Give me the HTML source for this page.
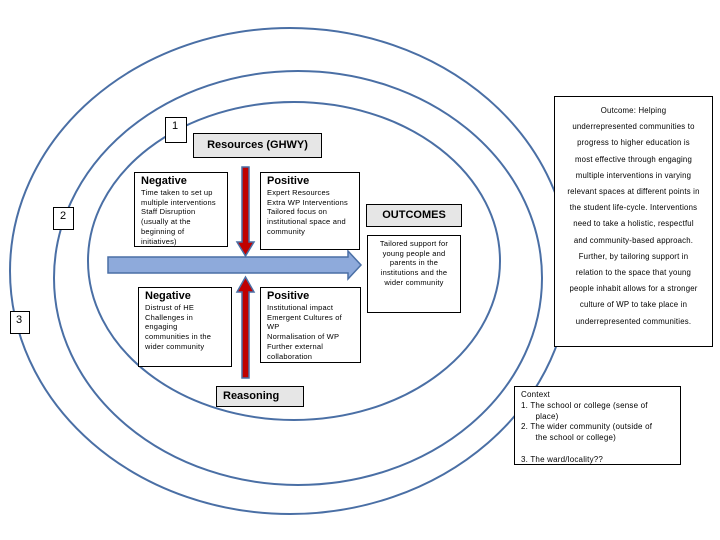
<!DOCTYPE html>
<html><head><meta charset="utf-8"><style>
body{margin:0;width:720px;height:540px;overflow:hidden;background:#fff;font-family:"Liberation Sans",sans-serif;position:relative}
.b{position:absolute;border:1px solid #000;background:#fff;box-sizing:border-box;font-size:7.5px;line-height:9.7px;color:#000;white-space:nowrap;letter-spacing:0.2px}
.g{background:#e6e6e6;font-weight:bold;font-size:11px;text-align:center;letter-spacing:0}
.h{font-weight:bold;font-size:11px;line-height:13px;letter-spacing:0}
</style></head><body>
<svg width="720" height="540" style="position:absolute;left:0;top:0">
<ellipse cx="290" cy="271" rx="280" ry="243" fill="none" stroke="#4a6fa5" stroke-width="2"/>
<ellipse cx="298" cy="278" rx="244" ry="207" fill="none" stroke="#4a6fa5" stroke-width="2"/>
<ellipse cx="294" cy="261" rx="206" ry="159" fill="none" stroke="#4a6fa5" stroke-width="2"/>
<polygon points="108,257 348,257 348,251 361,265 348,279 348,273 108,273" fill="#8eaadb" stroke="#4a6fa5" stroke-width="1.5"/>
<polygon points="242,167 249,167 249,242 254,242 245.5,256 237,242 242,242" fill="#c00000" stroke="#4a6fa5" stroke-width="1.5"/>
<polygon points="242,378 249,378 249,292 254,292 245.5,277 237,292 242,292" fill="#c00000" stroke="#4a6fa5" stroke-width="1.5"/>
</svg>
<div class="b" style="left:165px;top:117px;width:22px;height:26px;font-size:11px;padding:4px 0 0 6px">1</div>
<div class="b g" style="left:193px;top:133px;width:129px;height:25px;line-height:23px">Resources (GHWY)</div>
<div class="b" style="left:53px;top:207px;width:21px;height:23px;font-size:11px;padding:4px 0 0 6px">2</div>
<div class="b" style="left:10px;top:311px;width:20px;height:23px;font-size:11px;padding:4px 0 0 5px">3</div>
<div class="b" style="left:134px;top:172px;width:94px;height:75px;padding:2px 6px">
<div class="h">Negative</div>Time taken to set up<br>multiple interventions<br>Staff Disruption<br>(usually at the<br>beginning of<br>initiatives)</div>
<div class="b" style="left:260px;top:172px;width:100px;height:78px;padding:2px 6px">
<div class="h">Positive</div>Expert Resources<br>Extra WP Interventions<br>Tailored focus on<br>institutional space and<br>community</div>
<div class="b g" style="left:366px;top:204px;width:96px;height:23px;line-height:21px">OUTCOMES</div>
<div class="b" style="left:367px;top:235px;width:94px;height:78px;padding:3px 2px;text-align:center">Tailored support for<br>young people and<br>parents in the<br>institutions and the<br>wider community</div>
<div class="b" style="left:138px;top:287px;width:94px;height:80px;padding:2px 6px">
<div class="h">Negative</div>Distrust of HE<br>Challenges in<br>engaging<br>communities in the<br>wider community</div>
<div class="b" style="left:260px;top:287px;width:101px;height:76px;padding:2px 6px">
<div class="h">Positive</div>Institutional impact<br>Emergent Cultures of<br>WP<br>Normalisation of WP<br>Further external<br>collaboration</div>
<div class="b g" style="left:216px;top:386px;width:88px;height:21px;line-height:19px;text-align:left;padding-left:6px">Reasoning</div>
<div class="b" style="left:554px;top:96px;width:159px;height:251px;padding:6px 0;text-align:center;font-size:7.8px;line-height:16.2px">Outcome: Helping<br>underrepresented communities to<br>progress to higher education is<br>most effective through engaging<br>multiple interventions in varying<br>relevant spaces at different points in<br>the student life-cycle. Interventions<br>need to take a holistic, respectful<br>and community-based approach.<br>Further, by tailoring support in<br>relation to the space that young<br>people inhabit allows for a stronger<br>culture of WP to take place in<br>underrepresented communities.</div>
<div class="b" style="left:514px;top:386px;width:167px;height:79px;padding:3px 6px;font-size:8px;line-height:10.8px">Context<br>1. The school or college (sense of<br>&nbsp;&nbsp;&nbsp;&nbsp;&nbsp;&nbsp;place)<br>2. The wider community (outside of<br>&nbsp;&nbsp;&nbsp;&nbsp;&nbsp;&nbsp;the school or college)<br><br>3. The ward/locality??</div>
</body></html>
